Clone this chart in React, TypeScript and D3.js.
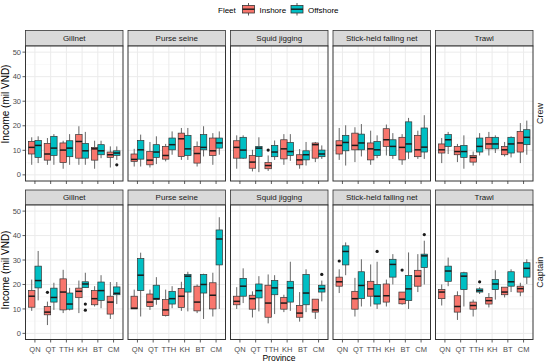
import React from "react";
import * as d3 from "d3";

const provinces = ["QN", "QT", "TTH", "KH", "BT", "CM"];
const gears = ["Gillnet", "Purse seine", "Squid jigging", "Stick-held falling net", "Trawl"];
const fleets = ["Inshore", "Offshore"];
const roles = ["Crew", "Captain"];
const yTicks = [0, 10, 20, 30, 40, 50];
const yMinor = [5, 15, 25, 35, 45];
const fleetColors = ["#F8766D", "#00BFC4"];

// [lower whisker, q1, median, q3, upper whisker], order: QN-In, QN-Off, QT-In, QT-Off, ...
const crewGillnet = [
  [4.1, 8.5, 11.2, 13.6, 15.3], [4.8, 7.1, 12, 14, 15.7],
  [4.1, 6, 8.5, 12.8, 15], [4.1, 7.9, 10.9, 15.7, 16.6],
  [2.5, 5, 10.1, 13, 13.9], [4.1, 7.4, 10.9, 13.9, 16.6],
  [4.1, 6.8, 13.6, 16.4, 19.8], [4.1, 6.8, 9.8, 12.8, 17.5],
  [2.5, 6, 10.6, 11.2, 13.9], [6.8, 8.2, 9.8, 12.3, 13.9],
  [3, 7.1, 8.2, 9.3, 11.6], [6.1, 7.9, 8.9, 9.8, 11.6],
];
const crewPurse = [
  [3.4, 5.5, 6.3, 8.5, 10.6], [3.4, 6.4, 10.2, 14, 16.4],
  [3, 4.1, 6, 9.5, 13.4], [4.4, 7.1, 9.3, 12.3, 15.7],
  [5.5, 6.4, 7.9, 11.6, 12.6], [8.2, 10.2, 12.3, 15, 17.7],
  [6.1, 7.5, 14.7, 17, 19.1], [6.1, 7.9, 10.6, 16.1, 19.1],
  [3.4, 4.8, 8.7, 11.6, 13.6], [7.5, 10.2, 11.2, 16.4, 19.8],
  [4.1, 7.9, 9.8, 15, 17], [8.2, 10.9, 13, 15, 17.7],
];
const crewSquid = [
  [2.5, 6.8, 11.2, 13.9, 16.1], [6.5, 6.8, 10.1, 15.3, 16.1],
  [1.4, 2.7, 5.2, 7.9, 10.2], [1.1, 7.5, 10.9, 11.6, 15.3],
  [1.6, 2.5, 3.8, 5, 7.9], [6.1, 7.4, 9.3, 12, 14],
  [4.1, 6.5, 10.6, 14.3, 16.6], [5.7, 7.9, 9.5, 13.2, 16.6],
  [2.5, 4.1, 6.1, 8.2, 10.5], [3.8, 6.1, 8.2, 9.8, 13.4],
  [5.2, 6.8, 12.3, 13, 13.4], [6.5, 7.4, 8.5, 10.1, 12],
];
const crewStick = [
  [6.1, 8.5, 12, 13.9, 19.1], [3.8, 9.8, 13.2, 16.1, 20.2],
  [5.2, 10.2, 12, 17, 19.4], [7.5, 10.2, 13, 16.6, 20.7],
  [4.1, 6.1, 10.6, 13, 18], [6.8, 7.9, 10.2, 13.6, 16.1],
  [7.9, 11.6, 14.3, 18.8, 20.5], [6.5, 7.9, 11.6, 14.3, 17],
  [4.1, 6.1, 11.2, 15.3, 16.6], [6.5, 9.3, 12.6, 21.6, 23.2],
  [6.5, 7.4, 10.2, 16.1, 18], [6.5, 9.3, 11.3, 19.1, 24.3],
];
const crewTrawl = [
  [4.8, 8.9, 10.2, 12.6, 15], [8.5, 11.6, 14.3, 16.4, 17.5],
  [5.2, 8.2, 9.5, 11.6, 12.6], [2.5, 7.1, 9.5, 12, 16.1],
  [3.8, 5.2, 7.1, 7.9, 9.5], [7.9, 9.3, 11.6, 15, 17],
  [7.9, 10.6, 12.6, 15.3, 17.5], [8.9, 10.6, 12.6, 15.3, 16.1],
  [7.5, 8.2, 10.2, 11.6, 13.4], [7.1, 8.9, 12.6, 15.3, 15.7],
  [4.8, 9.3, 13, 17.7, 21.1], [8.2, 12.3, 15.3, 18.4, 22.1],
];
const captainGillnet = [
  [9.2, 10.7, 15.2, 17.5, 22], [13.5, 18.6, 21.6, 27.5, 33.7],
  [3.4, 7.6, 8.7, 11, 13], [9.6, 12.8, 14.7, 18.5, 20.7],
  [8.3, 9.6, 16.9, 22.3, 26], [9.4, 9.9, 12, 16.5, 18.6],
  [8.3, 14.6, 17.2, 18.5, 21.6], [18.6, 18.7, 20.2, 21.1, 24.8],
  [11, 11.7, 14.2, 17.5, 19.3], [10.3, 13.5, 17.5, 21, 23.8],
  [5.9, 7.9, 12.8, 15.2, 21], [12, 15.8, 16.4, 19, 21],
];
const captainPurse = [
  [10, 10, 10.3, 15.2, 17.9], [6.9, 17.5, 23.8, 30.6, 33],
  [9.6, 11, 12.8, 16.1, 17.9], [11.7, 13.8, 14.2, 19.7, 23],
  [6.9, 7.3, 9.6, 13.8, 17.9], [10.3, 12, 14.2, 17.2, 19.3],
  [9.2, 10.6, 15.2, 18.3, 21.1], [9, 16.9, 23.4, 24.1, 25.2],
  [8.3, 9.2, 12.8, 19.3, 20], [5.9, 16.5, 20, 24.1, 24.4],
  [6.9, 10, 15.6, 20.7, 24.8], [10, 28, 38.6, 42.3, 47.5],
];
const captainSquid = [
  [10, 11.7, 13.1, 15.2, 18.9], [12.4, 15.2, 19.3, 22.5, 26.6],
  [6.5, 9.9, 14.2, 15.6, 17.2], [9, 14.5, 17.5, 20.2, 23.4],
  [4.1, 6.6, 12.4, 19.7, 24.1], [7.9, 15.8, 18.6, 21.6, 23.8],
  [8.7, 9.9, 12.4, 14.7, 15.8], [9.2, 12.8, 18.6, 21.3, 29.3],
  [4.8, 6.6, 8.3, 11.4, 16.9], [8.7, 11.7, 16.5, 24.1, 26.2],
  [5.9, 8.7, 9.6, 14, 14], [13.1, 16.9, 18.3, 19.7, 21.6],
];
const captainStick = [
  [16.5, 19.3, 21.1, 23, 26.2], [23.8, 28, 33.5, 35.8, 37.2],
  [6.9, 9.9, 14.2, 17.2, 22.7], [11, 14.2, 19.6, 25.2, 30.3],
  [11, 15.2, 18.2, 21.3, 28.2], [10, 12, 15.2, 20, 29.3],
  [11, 12.8, 15.4, 20.2, 22], [20, 23, 28.2, 30.3, 32.4],
  [11.7, 12.1, 14, 16.9, 16.9], [10, 13.4, 18.2, 23.7, 33.1],
  [16.9, 19.3, 23.4, 25.8, 32.4], [20, 26.9, 31.7, 32.4, 37.9],
];
const captainTrawl = [
  [11.4, 14.2, 16.9, 17.9, 20], [19.3, 21.3, 25.5, 27.5, 31],
  [5.5, 8.7, 11, 15.4, 17.2], [11, 17.9, 23.4, 24.8, 25.2],
  [6.9, 9.9, 11.4, 12.8, 13.8], [16.1, 16.9, 17.5, 18.2, 18.9],
  [10.6, 12, 13.4, 14.7, 16.5], [13.8, 17.9, 20.2, 22, 25.8],
  [14.7, 15.8, 16.9, 18.9, 18.9], [16.9, 19.3, 21.1, 25.2, 26.2],
  [15.2, 16.9, 18.3, 19.3, 20.7], [20.2, 23, 26.6, 28.9, 30.3],
];

// [role, gear, province, fleet, value]
const outliers: [string, string, string, string, number][] = [
  ["Crew", "Gillnet", "CM", "Offshore", 4.1],
  ["Crew", "Squid jigging", "TTH", "Inshore", 10.1],
  ["Captain", "Gillnet", "QT", "Inshore", 16.8],
  ["Captain", "Gillnet", "KH", "Offshore", 12],
  ["Captain", "Gillnet", "KH", "Offshore", 9.5],
  ["Captain", "Squid jigging", "CM", "Offshore", 24.1],
  ["Captain", "Stick-held falling net", "QN", "Inshore", 29.6],
  ["Captain", "Stick-held falling net", "TTH", "Offshore", 33.5],
  ["Captain", "Stick-held falling net", "BT", "Inshore", 25.9],
  ["Captain", "Stick-held falling net", "CM", "Offshore", 40.4],
  ["Captain", "Trawl", "TTH", "Offshore", 21.1],
];

const stats: Record<string, number[][][]> = {
  Crew: [crewGillnet, crewPurse, crewSquid, crewStick, crewTrawl],
  Captain: [captainGillnet, captainPurse, captainSquid, captainStick, captainTrawl],
};

const W = 550;
const H = 362;
const FONT = "'Liberation Sans', Arial, sans-serif";
const rows = [
  { role: "Crew", stripTop: 30.5, top: 46, bottom: 181, labels: false, titleY: 104 },
  { role: "Captain", stripTop: 190, top: 205, bottom: 339.5, labels: true, titleY: 270 },
];

export default function App() {
  const xGear = d3.scaleBand<string>().domain(gears).range([25.5, 533]).paddingInner(0.0488);
  const pw = xGear.bandwidth();
  const xProv = d3.scaleBand<string>().domain(provinces).range([0, pw]).paddingInner(0).paddingOuter(0.1);
  const step = xProv.step();
  const xFleet = d3.scaleBand<string>().domain(fleets).range([-0.41 * step, 0.41 * step]);
  const bw = xFleet.bandwidth();
  const cx = (p: string) => (xProv(p) as number) + xProv.bandwidth() / 2;

  return (
    <svg width={W} height={H} style={{ position: "absolute", left: 0, top: 0, background: "#fff" }} fontFamily={FONT}>
      <rect width={W} height={H} fill="#fff" />
      {/* legend */}
      <g>
        <text x={218} y={12.5} fontSize={8} fill="#000">Fleet</text>
        {fleets.map((f, i) => {
          const kx = [242.5, 291][i];
          return (
            <g key={f}>
              <line x1={kx + 6} x2={kx + 6} y1={3} y2={15.5} stroke="#333" strokeWidth={0.8} />
              <rect x={kx} y={5.5} width={12} height={7.5} fill={fleetColors[i]} stroke="#333" strokeWidth={0.8} />
              <line x1={kx} x2={kx + 12} y1={9.2} y2={9.2} stroke="#1a1a1a" strokeWidth={1.4} />
              <text x={kx + 17} y={12.5} fontSize={8} fill="#000">{f}</text>
            </g>
          );
        })}
      </g>
      {rows.map((r) => {
        const y = d3.scaleLinear().domain([-2.5, 52.5]).range([r.bottom, r.top]);
        const data = stats[r.role];
        return (
          <g key={r.role}>
            <text
              transform={`translate(${9},${r.titleY}) rotate(-90)`}
              textAnchor="middle"
              fontSize={10}
              fill="#000"
            >
              Income (mil VND)
            </text>
            {yTicks.map((t) => (
              <g key={t}>
                <text x={21} y={y(t) + 2.6} textAnchor="end" fontSize={7.5} fill="#4D4D4D">{t}</text>
                <line x1={22.5} x2={25.5} y1={y(t)} y2={y(t)} stroke="#333" strokeWidth={0.8} />
              </g>
            ))}
            <text
              transform={`translate(${542.5},${(r.top + r.bottom) / 2}) rotate(-90)`}
              textAnchor="middle"
              fontSize={9}
              fill="#1A1A1A"
            >
              {r.role}
            </text>
            {gears.map((g, gi) => {
              const x0 = xGear(g) as number;
              const panelStats = data[gi];
              return (
                <g key={g}>
                  <rect x={x0} y={r.stripTop} width={pw} height={r.top - r.stripTop} fill="#D9D9D9" stroke="#333" strokeWidth={0.8} />
                  <text x={x0 + pw / 2} y={(r.stripTop + r.top) / 2 + 2.8} textAnchor="middle" fontSize={8} fill="#1A1A1A">{g}</text>
                  <g transform={`translate(${x0},0)`}>
                    <rect x={0} y={r.top} width={pw} height={r.bottom - r.top} fill="#fff" />
                    {yMinor.map((t) => (
                      <line key={"m" + t} x1={0} x2={pw} y1={y(t)} y2={y(t)} stroke="#F0F0F0" strokeWidth={0.5} />
                    ))}
                    {yTicks.map((t) => (
                      <line key={"M" + t} x1={0} x2={pw} y1={y(t)} y2={y(t)} stroke="#EBEBEB" strokeWidth={1} />
                    ))}
                    {provinces.map((p) => (
                      <line key={p} x1={cx(p)} x2={cx(p)} y1={r.top} y2={r.bottom} stroke="#EBEBEB" strokeWidth={1} />
                    ))}
                    {provinces.map((p, pi) =>
                      fleets.map((f, fi) => {
                        const s = panelStats[pi * 2 + fi];
                        const left = cx(p) + (xFleet(f) as number);
                        const mid = left + bw / 2;
                        return (
                          <g key={p + f}>
                            <line x1={mid} x2={mid} y1={y(s[0])} y2={y(s[1])} stroke="#555" strokeWidth={0.9} />
                            <line x1={mid} x2={mid} y1={y(s[3])} y2={y(s[4])} stroke="#555" strokeWidth={0.9} />
                            <rect
                              x={left}
                              y={y(s[3])}
                              width={bw}
                              height={Math.max(0.5, y(s[1]) - y(s[3]))}
                              fill={fleetColors[fi]}
                              stroke="#333"
                              strokeWidth={0.7}
                            />
                            <line x1={left} x2={left + bw} y1={y(s[2])} y2={y(s[2])} stroke="#1a1a1a" strokeWidth={1.5} />
                          </g>
                        );
                      })
                    )}
                    {outliers
                      .filter((o) => o[0] === r.role && o[1] === g)
                      .map((o, i) => (
                        <circle
                          key={i}
                          cx={cx(o[2]) + (xFleet(o[3]) as number) + bw / 2}
                          cy={y(o[4])}
                          r={1.6}
                          fill="#1a1a1a"
                        />
                      ))}
                    <rect x={0} y={r.top} width={pw} height={r.bottom - r.top} fill="none" stroke="#333" strokeWidth={1} />
                    {provinces.map((p) => (
                      <g key={"t" + p}>
                        <line x1={cx(p)} x2={cx(p)} y1={r.bottom} y2={r.bottom + 3} stroke="#333" strokeWidth={0.8} />
                        {r.labels && (
                          <text x={cx(p)} y={r.bottom + 12.5} textAnchor="middle" fontSize={7.5} fill="#4D4D4D">{p}</text>
                        )}
                      </g>
                    ))}
                  </g>
                </g>
              );
            })}
          </g>
        );
      })}
      <text x={279} y={361} textAnchor="middle" fontSize={8.5} fill="#000">Province</text>
    </svg>
  );
}
